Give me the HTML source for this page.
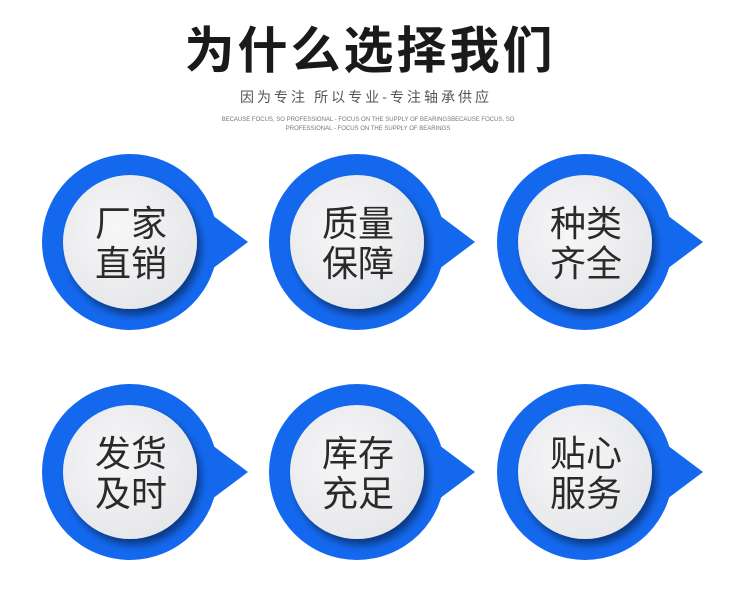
<!DOCTYPE html>
<html><head><meta charset="utf-8"><style>
html,body{margin:0;padding:0;background:#fff;width:750px;height:604px;overflow:hidden}
svg{display:block}
</style></head><body>
<svg width="750" height="604" viewBox="0 0 750 604" xmlns="http://www.w3.org/2000/svg">
<defs>
<radialGradient id="g" cx="0.4" cy="0.4" r="0.7">
<stop offset="0" stop-color="#f7f7f8"/><stop offset="1" stop-color="#e4e5e8"/>
</radialGradient>
<filter id="s" x="-30%" y="-30%" width="160%" height="160%">
<feGaussianBlur in="SourceAlpha" stdDeviation="4"/><feOffset dx="4" dy="6"/>
<feComponentTransfer><feFuncA type="linear" slope="0.45"/></feComponentTransfer>
<feMerge><feMergeNode/><feMergeNode in="SourceGraphic"/></feMerge>
</filter>
<g id="b">
<circle cx="0" cy="0" r="88" fill="#1468ee"/>
<polygon points="78,-30 118,0 78,30" fill="#1468ee"/>
<circle cx="0" cy="0" r="67" fill="url(#g)" filter="url(#s)"/>
</g>
</defs>
<text x="370" y="68" text-anchor="middle" font-family="'Noto Sans CJK SC',sans-serif" font-weight="700" font-size="50" fill="#1a1a1a" letter-spacing="3">为什么选择我们</text>
<text x="366" y="102" text-anchor="middle" font-family="'Noto Sans CJK SC',sans-serif" font-size="14" fill="#555" letter-spacing="3">因为专注 所以专业-专注轴承供应</text>
<text x="368" y="121" text-anchor="middle" font-family="'Liberation Sans',sans-serif" font-size="6" fill="#777">BECAUSE FOCUS, SO PROFESSIONAL - FOCUS ON THE SUPPLY OF BEARINGSBECAUSE FOCUS, SO</text>
<text x="368" y="130" text-anchor="middle" font-family="'Liberation Sans',sans-serif" font-size="6" fill="#777">PROFESSIONAL - FOCUS ON THE SUPPLY OF BEARINGS</text>
<use href="#b" x="130" y="242"/><use href="#b" x="357" y="242"/><use href="#b" x="585" y="242"/>
<use href="#b" x="130" y="472"/><use href="#b" x="357" y="472"/><use href="#b" x="585" y="472"/>
<g font-family="'Noto Sans CJK SC',sans-serif" font-size="36" fill="#2a2a2a" text-anchor="middle">
<text x="131" y="236">厂家</text><text x="131" y="276">直销</text>
<text x="358" y="236">质量</text><text x="358" y="276">保障</text>
<text x="586" y="236">种类</text><text x="586" y="276">齐全</text>
<text x="131" y="466">发货</text><text x="131" y="506">及时</text>
<text x="358" y="466">库存</text><text x="358" y="506">充足</text>
<text x="586" y="466">贴心</text><text x="586" y="506">服务</text>
</g>
</svg>
</body></html>
